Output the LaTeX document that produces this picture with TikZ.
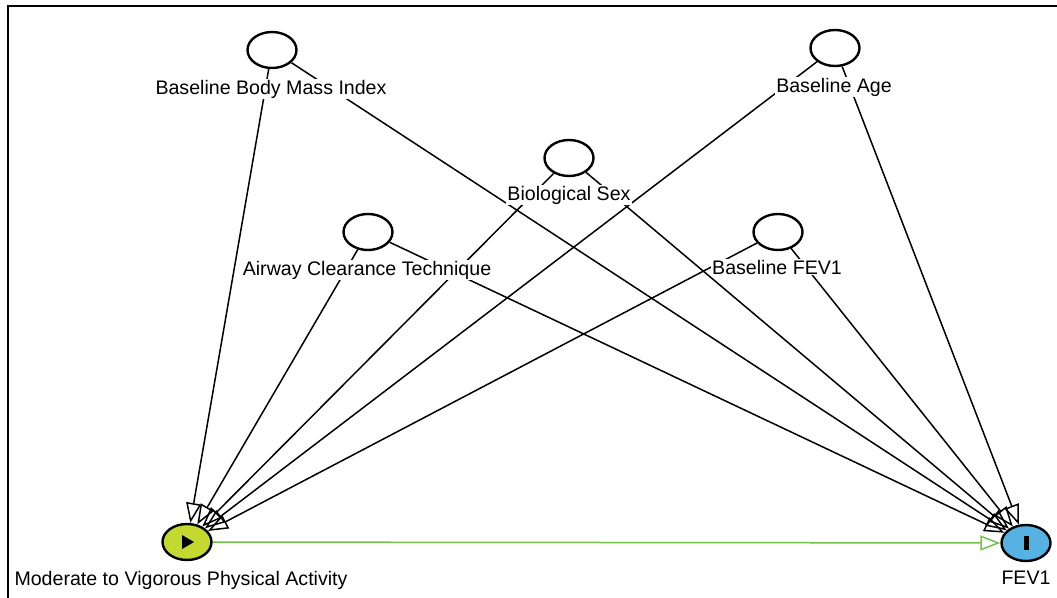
\documentclass[tikz,border=0pt]{standalone}
\usepackage{fontspec}
\setmainfont{Liberation Sans}
\usetikzlibrary{arrows.meta,shapes.geometric}
\pgfdeclarelayer{bg}
\pgfsetlayers{bg,main}
\definecolor{expo}{HTML}{C3D92F}
\definecolor{outc}{HTML}{55B2E3}
\definecolor{causal}{HTML}{72C14C}
\begin{document}
\begin{tikzpicture}[x=1pt,y=-1pt,
  var/.style={ellipse, draw, line width=2.4pt, fill=white, minimum width=49pt, minimum height=36pt, inner sep=0pt},
  lbl/.style={fill=white, inner sep=1pt, anchor=base, font=\fontsize{19.6}{24}\selectfont},
  edge/.style={line width=1.5pt, -{Triangle[open,length=20pt,width=15pt,line width=1.5pt]}},
]
\useasboundingbox (0,0) rectangle (1057,597);
\draw[line width=2.4pt] (8,6) rectangle (1080,620);

\node[var] (bmi) at (272,50) {};
\node[var] (age) at (835,48) {};
\node[var] (sex) at (569,158) {};
\node[var] (act) at (368,232) {};
\node[var] (bfev) at (778,232) {};
\node[var, fill=expo] (mvpa) at (187,542) {};
\node[var, fill=outc] (fev) at (1026,543) {};

\node[lbl] (bmiL) at (271,94) {Baseline Body Mass Index};
\node[lbl] (ageL) at (834,92) {Baseline Age};
\node[lbl] (sexL) at (569,200) {Biological Sex};
\node[lbl] (actL) at (367,275) {Airway Clearance Technique};
\node[lbl] (bfevL) at (777,274) {Baseline FEV1};
\node[lbl] (mvpaL) at (181,585) {Moderate to Vigorous Physical Activity};
\node[lbl] (fevL) at (1026,584) {FEV1};

\fill (mvpa.center) ++(-5,-7) -- ++(0,14) -- ++(12,-7) -- cycle;
\fill (fev.center) ++(-2.5,-7) rectangle ++(5,14);

\begin{pgfonlayer}{bg}
\foreach \s in {bmi,age,sex,act,bfev}{
  \draw[edge] (\s) -- (mvpa);
  \draw[edge] (\s) -- (fev);
}
\draw[edge, draw=causal] (mvpa) -- (fev);
\end{pgfonlayer}
\end{tikzpicture}
\end{document}
